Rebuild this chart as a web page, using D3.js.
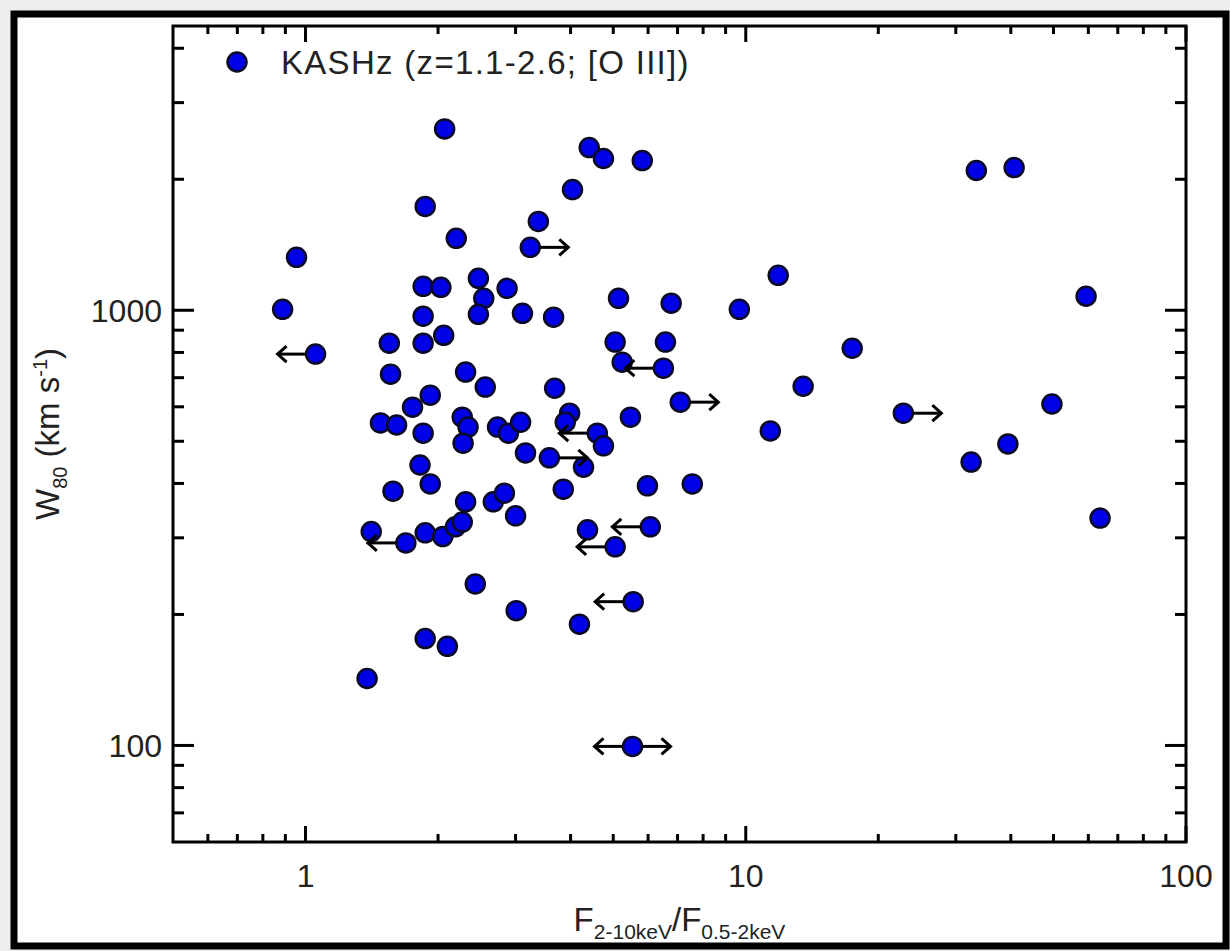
<!DOCTYPE html>
<html>
<head>
<meta charset="utf-8">
<script src="https://cdn.jsdelivr.net/npm/d3@7"></script>
<style>
  body { margin: 0; background: #eeeeee; }
  svg { display: block; }
  text { font-family: "Liberation Sans", Arial, Helvetica, sans-serif; fill: #222; }
</style>
</head>
<body>
<svg id="chart"></svg>
<script>
var width = 1230
var height = 951

// F(2-10keV)/F(0.5-2keV) ratio for each source
var ratio = [2.07, 4.41, 4.75, 5.82, 33.4, 40.7, 4.04, 1.87, 3.38, 3.24,
    2.20, 0.954, 11.85, 2.47, 1.85, 2.03, 2.87, 2.54, 5.14, 6.77,
    0.887, 9.67, 59.3, 1.85, 2.47, 3.11, 3.66, 1.55, 1.85, 2.06,
    5.05, 6.57, 17.45, 1.054, 5.24, 6.50, 1.56, 2.31, 1.92, 2.56,
    3.68, 13.5, 7.10, 49.6, 1.75, 22.8, 3.98, 3.89, 5.47, 1.48,
    1.61, 1.85, 2.27, 2.34, 2.73, 2.89, 3.08, 4.60, 4.75, 2.28,
    3.16, 3.58, 4.28, 11.37, 1.82, 32.5, 39.4, 1.92, 1.58, 3.85,
    5.98, 7.56, 2.67, 2.83, 2.31, 3.00, 1.41, 1.69, 1.87, 2.05,
    2.19, 2.27, 4.37, 6.07, 5.05, 63.8, 2.43, 3.01, 5.55, 4.19,
    1.87, 2.10, 1.38, 5.53]

// W80 of [O III] in km/s
var w80 = [2610, 2365, 2232, 2208, 2095, 2128, 1894, 1732, 1600, 1395,
    1463, 1323, 1203, 1184, 1135, 1129, 1123, 1065, 1065, 1038,
    1005, 1005, 1077, 969, 979, 984, 964, 840, 840, 876,
    845, 845, 818, 793, 760, 736, 713, 721, 638, 666,
    662, 669, 615, 609, 599, 580, 580, 553, 568, 551,
    545, 522, 568, 539, 539, 522, 553, 522, 488, 495,
    470, 458, 436, 528, 441, 448, 493, 399, 384, 388,
    395, 399, 363, 380, 363, 337, 310, 292, 308, 302,
    318, 326, 313, 318, 286, 333, 235, 204, 214, 190,
    176, 169, 142.5, 99.5]

// limit on the ratio: "" none, "L" upper limit, "R" lower limit, "B" both
var limits = ["", "", "", "", "", "", "", "", "", "R",
    "", "", "", "", "", "", "", "", "", "",
    "", "", "", "", "", "", "", "", "", "",
    "", "", "", "L", "", "L", "", "", "", "",
    "", "", "R", "", "", "R", "", "", "", "",
    "", "", "", "", "", "", "", "L", "", "",
    "", "R", "", "", "", "", "", "", "", "",
    "", "", "", "", "", "", "", "L", "", "",
    "", "", "", "L", "L", "", "", "", "L", "",
    "", "", "", "B"]

var xMajor = [1, 10, 100]
var xMinor = [0.6, 0.7, 0.8, 0.9, 2, 3, 4, 5, 6, 7, 8, 9, 20, 30, 40, 50, 60, 70, 80, 90]
var yMajor = [100, 1000]
var yMinor = [70, 80, 90, 200, 300, 400, 500, 600, 700, 800, 900, 2000, 3000, 4000]

var legendLabel = "KASHz (z=1.1-2.6; [O III])"

var margin = {left: 173, right: 1186, top: 26, bottom: 842}

var svg = d3.select("#chart")
    .attr("width", width)
    .attr("height", height)

// outer frame
svg.append("rect")
    .attr("x", 14).attr("y", 14)
    .attr("width", 1212).attr("height", 932)
    .attr("fill", "white")
    .attr("stroke", "black")
    .attr("stroke-width", 7)

var x = d3.scaleLog().domain([0.5, 100]).range([margin.left, margin.right])
var y = d3.scaleLog().domain([60, 4500]).range([margin.bottom, margin.top])

var axes = svg.append("g")
    .attr("stroke", "black")
    .attr("stroke-width", 3)

// ticks on all four sides, pointing inward
function xTicks(vals, len) {
    vals.forEach(function(v) {
        axes.append("line").attr("x1", x(v)).attr("x2", x(v))
            .attr("y1", margin.bottom).attr("y2", margin.bottom - len)
        axes.append("line").attr("x1", x(v)).attr("x2", x(v))
            .attr("y1", margin.top).attr("y2", margin.top + len)
    })
}
function yTicks(vals, len) {
    vals.forEach(function(v) {
        axes.append("line").attr("y1", y(v)).attr("y2", y(v))
            .attr("x1", margin.left).attr("x2", margin.left + len)
        axes.append("line").attr("y1", y(v)).attr("y2", y(v))
            .attr("x1", margin.right).attr("x2", margin.right - len)
    })
}
xTicks(xMajor, 16)
xTicks(xMinor, 8)
yTicks(yMajor, 21)
yTicks(yMinor, 11)

axes.append("rect")
    .attr("x", margin.left).attr("y", margin.top)
    .attr("width", margin.right - margin.left)
    .attr("height", margin.bottom - margin.top)
    .attr("fill", "none")

svg.append("g").selectAll("text")
    .data(xMajor)
    .enter()
    .append("text")
    .attr("x", d => x(d))
    .attr("y", 887)
    .attr("text-anchor", "middle")
    .style("font-size", "32px")
    .text(d => d)

svg.append("g").selectAll("text")
    .data(yMajor)
    .enter()
    .append("text")
    .attr("x", 162)
    .attr("y", d => y(d) + 12)
    .attr("text-anchor", "end")
    .style("font-size", "32px")
    .text(d => d)

// axis titles
var xt = svg.append("text")
    .attr("x", (margin.left + margin.right) / 2)
    .attr("y", 931)
    .attr("text-anchor", "middle")
    .style("font-size", "33px")
xt.append("tspan").text("F")
xt.append("tspan").attr("dy", 8).style("font-size", "21px").text("2-10keV")
xt.append("tspan").attr("dy", -8).text("/F")
xt.append("tspan").attr("dy", 8).style("font-size", "21px").text("0.5-2keV")

var yt = svg.append("text")
    .attr("transform", "translate(59," + ((margin.top + margin.bottom) / 2) + ") rotate(-90)")
    .attr("text-anchor", "middle")
    .style("font-size", "33px")
yt.append("tspan").text("W")
yt.append("tspan").attr("dy", 8).style("font-size", "20px").text("80")
yt.append("tspan").attr("dy", -8).text(" (km s")
yt.append("tspan").attr("dy", -12).style("font-size", "20px").text("-1")
yt.append("tspan").attr("dy", 12).text(")")

var points = ratio.map(function(d, i) {
    return {ratio: d, w80: w80[i], limit: limits[i]}
})

var r = 9.5
var arrowLen = 38

svg.append("g").selectAll("circle")
    .data(points)
    .enter()
    .append("circle")
    .attr("cx", d => x(d.ratio))
    .attr("cy", d => y(d.w80))
    .attr("r", r)
    .attr("fill", "#0000e6")
    .attr("stroke", "#0a0a28")
    .attr("stroke-width", 2.5)

// limit arrows
var arrows = svg.append("g")
    .attr("stroke", "black")
    .attr("stroke-width", 3)
    .attr("fill", "none")

points.filter(d => d.limit != "").forEach(function(d) {
    var dirs = d.limit == "L" ? [-1] : d.limit == "R" ? [1] : [-1, 1]
    var cx = x(d.ratio), cy = y(d.w80)
    dirs.forEach(function(s) {
        var tip = cx + s * arrowLen
        arrows.append("line")
            .attr("x1", cx + s * r).attr("x2", tip)
            .attr("y1", cy).attr("y2", cy)
        arrows.append("path")
            .attr("d", "M" + (tip - s * 9) + "," + (cy - 8) + "L" + tip + "," + cy + "L" + (tip - s * 9) + "," + (cy + 8))
    })
})

// legend
svg.append("circle")
    .attr("cx", 237).attr("cy", 62).attr("r", r)
    .attr("fill", "#0000e6")
    .attr("stroke", "#0a0a28")
    .attr("stroke-width", 2.5)
svg.append("text")
    .attr("x", 281).attr("y", 74)
    .style("font-size", "33px")
    .style("letter-spacing", "1.3px")
    .text(legendLabel)
</script>
</body>
</html>
